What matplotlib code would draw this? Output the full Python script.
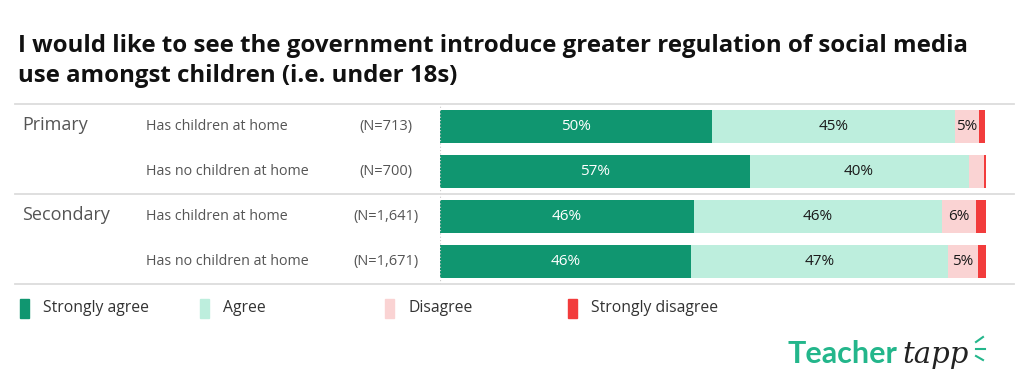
import matplotlib
matplotlib.use("Agg")
import matplotlib.pyplot as plt
from matplotlib.lines import Line2D
from matplotlib.patches import Rectangle
import matplotlib.transforms as mtransforms

plt.rcParams['font.family'] = ['Open Sans', 'DejaVu Sans']

title = "I would like to see the government introduce greater regulation of social media\nuse amongst children (i.e. under 18s)"
phases = ["Primary", "", "Secondary", ""]
groups = ["Has children at home", "Has no children at home", "Has children at home", "Has no children at home"]
ns = ["(N=713)", "(N=700)", "(N=1,641)", "(N=1,671)"]
categories = ["Strongly agree", "Agree", "Disagree", "Strongly disagree"]
strongly_agree = [49.8, 56.7, 46.5, 46.0]
agree = [44.5, 40.1, 45.5, 47.1]
disagree = [4.5, 2.9, 6.1, 5.4]
strongly_disagree = [1.1, 0.3, 1.9, 1.5]
labels = [["50%", "45%", "5%", ""],
          ["57%", "40%", "", ""],
          ["46%", "46%", "6%", ""],
          ["46%", "47%", "5%", ""]]
colors = ["#109670", "#bdeedd", "#fad3d3", "#f23c3c"]
text_colors = ["white", "#1a1a1a", "#1a1a1a", "#1a1a1a"]

W, H = 1024, 384
fig = plt.figure(figsize=(W / 100, H / 100), dpi=100)

def fx(px):
    return px / W

def fy(py):
    return 1 - py / H

ax = fig.add_axes([fx(440), fy(284), fx(986) - fx(440), (284 - 104) / H])
series = [strongly_agree, agree, disagree, strongly_disagree]
rows = range(len(groups))
left = [0.0] * len(groups)
for k, vals in enumerate(series):
    bars = ax.barh(list(rows), vals, left=left, height=0.75, color=colors[k], linewidth=0)
    for i, b in enumerate(bars):
        if labels[i][k]:
            ax.text(left[i] + vals[i] / 2, i, labels[i][k], ha='center', va='center',
                    fontsize=11, color=text_colors[k])
    left = [l + v for l, v in zip(left, vals)]

ax.set_xlim(0, 100)
ax.set_ylim(3.5, -0.5)
ax.axis('off')
ax.axvline(0, ls=(0, (1, 2)), color='#c8c8c8', lw=0.8)

trans = mtransforms.blended_transform_factory(fig.transFigure, ax.transData)
for i in rows:
    if phases[i]:
        ax.text(fx(22), i - 0.03, phases[i], transform=trans, ha='left', va='center',
                fontsize=13, color='#555555')
    ax.text(fx(146), i, groups[i], transform=trans, ha='left', va='center',
            fontsize=10.3, color='#555555')
    ax.text(fx(386), i, ns[i], transform=trans, ha='center', va='center',
            fontsize=10.5, color='#555555')

for py in [104, 194, 284]:
    fig.add_artist(Line2D([fx(15), fx(1014)], [fy(py), fy(py)], color='#dcdcdc', lw=1.3))

fig.text(fx(18), fy(82), title, ha='left', va='baseline', fontsize=17.3, fontweight='bold',
         color='#111111', linespacing=1.33)

# legend
leg_x = [20, 200, 385, 568]
for k, cat in enumerate(categories):
    fig.add_artist(Rectangle((fx(leg_x[k]), fy(318)), fx(9), 19 / H, color=colors[k],
                             transform=fig.transFigure))
    fig.text(fx(leg_x[k] + 23), fy(308), cat, ha='left', va='center', fontsize=11.3, color='#333333')

# logo
fig.text(fx(788), fy(363), "Teacher", ha='left', va='baseline', fontsize=22, fontweight='bold',
         color='#23b68b', family=['Lato'])
fig.text(fx(902), fy(363), "tapp", ha='left', va='baseline', fontsize=21, style='italic',
         color='#222222', family=['DejaVu Serif'])
for dx, dy, ex, ey in [(976, 342, 983, 337), (976, 349, 985, 349), (976, 356, 983, 360)]:
    fig.add_artist(Line2D([fx(dx), fx(ex)], [fy(dy), fy(ey)], color='#23b68b', lw=1.5))

fig.savefig("out.png", dpi=100)
